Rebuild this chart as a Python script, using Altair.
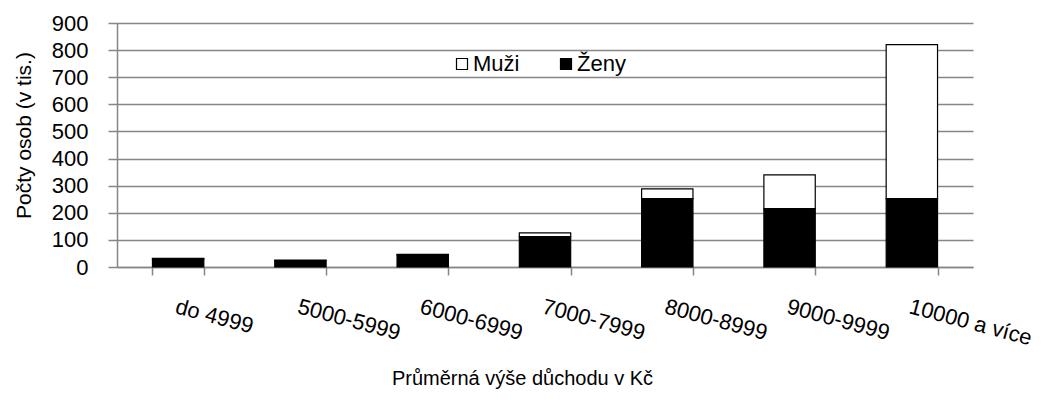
import altair as alt
import pandas as pd

kategorie = ["do 4999", "5000-5999", "6000-6999", "7000-7999", "8000-8999", "9000-9999", "10000 a více"]
zeny = [30, 24, 45, 112, 252, 215, 252]
muzi = [2, 1, 2, 14, 36, 125, 568]
pohlavi = ["Muži", "Ženy"]
y_ticks = [0, 100, 200, 300, 400, 500, 600, 700, 800, 900]

rows = []
for k, z, m in zip(kategorie, zeny, muzi):
    rows.append({"kategorie": k, "pohlavi": "Ženy", "hodnota": z, "poradi": 0})
    rows.append({"kategorie": k, "pohlavi": "Muži", "hodnota": m, "poradi": 1})
df = pd.DataFrame(rows)

FONT = "Liberation Sans"
GRAY = "#868686"

chart = alt.Chart(df).mark_bar(stroke="black", strokeWidth=1.2).encode(
    x=alt.X(
        "kategorie:N",
        sort=kategorie,
        scale=alt.Scale(paddingInner=0.58, paddingOuter=0.29),
        axis=alt.Axis(
            title="Průměrná výše důchodu v Kč",
            labelAngle=15,
            labelAlign="left",
            labelBaseline="top",
            labelPadding=21,
            labelFontSize=22,
            labelColor="black",
            labelFont=FONT,
            labelLimit=400,
            labelOverlap=False,
            labelBound=False,
            tickSize=8,
            tickBand="extent",
            tickColor=GRAY,
            tickWidth=1.5,
            domainColor=GRAY,
            domainWidth=1.5,
            grid=False,
            titleFontSize=20,
            titleFont=FONT,
            titleFontWeight="normal",
            titleColor="black",
            titleX=405,
            titleY=111,
            titleBaseline="middle",
        ),
    ),
    y=alt.Y(
        "hodnota:Q",
        stack="zero",
        scale=alt.Scale(domain=[0, 900]),
        axis=alt.Axis(
            title="Počty osob (v tis.)",
            values=y_ticks,
            labelFontSize=22,
            labelFont=FONT,
            labelColor="black",
            labelPadding=20,
            tickSize=9,
            tickColor=GRAY,
            tickWidth=1.5,
            domainColor=GRAY,
            domainWidth=1.5,
            gridColor=GRAY,
            gridWidth=1.6,
            titleFontSize=21,
            titleFont=FONT,
            titleFontWeight="normal",
            titleColor="black",
            titleAngle=-90,
            titleAlign="center",
            titleBaseline="middle",
            titleX=-93,
            titleY=112,
        ),
    ),
    color=alt.Color(
        "pohlavi:N",
        scale=alt.Scale(domain=pohlavi, range=["white", "black"]),
        legend=alt.Legend(
            title=None,
            orient="none",
            direction="horizontal",
            legendX=334,
            legendY=30,
            symbolType="square",
            symbolSize=121,
            symbolStrokeColor="black",
            symbolStrokeWidth=1.2,
            labelFontSize=22,
            labelFont=FONT,
            labelColor="black",
            labelOffset=0,
            columnPadding=35,
            padding=0,
        ),
    ),
    order=alt.Order("poradi:Q"),
).properties(
    width=856,
    height=244,
    padding={"left": 109, "top": 15, "right": 68, "bottom": 130},
    autosize=alt.AutoSizeParams(type="none"),
).configure_view(stroke=None)

chart.save("out.html", embed_options={"renderer": "svg", "actions": False})
